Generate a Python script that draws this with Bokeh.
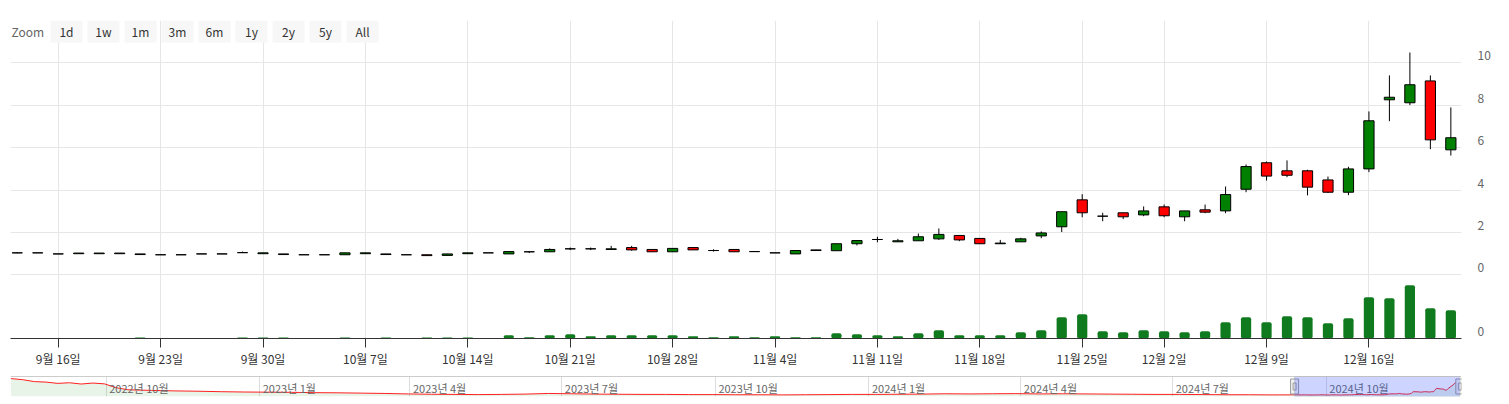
import pandas as pd
from bokeh.plotting import figure
from bokeh.models import (Range1d, LinearAxis, FixedTicker, Grid, ColumnDataSource,
                          BoxAnnotation, Label, Span)
from bokeh.layouts import column
from bokeh.embed import file_html
from bokeh.resources import INLINE

# ---------------- data ----------------
dates = pd.bdate_range("2024-09-12", "2024-12-20").drop(pd.Timestamp("2024-11-28"))

open_ = [1.04, 1.04, 0.99, 1.00, 1.00, 1.00, 0.99, 0.95, 0.95, 0.99,
         0.99, 1.05, 1.00, 0.99, 0.95, 0.95, 0.95, 1.00, 0.99, 0.95,
         0.95, 0.92, 1.00, 1.04, 0.99, 1.09, 1.09, 1.23, 1.23, 1.20,
         1.29, 1.20, 1.09, 1.29, 1.15, 1.20, 1.10, 1.04, 0.99, 1.15,
         1.14, 1.47, 1.67, 1.56, 1.61, 1.70, 1.86, 1.72, 1.47, 1.56,
         1.84, 2.27, 3.54, 2.77, 2.93, 2.83, 3.21, 2.74, 3.07, 3.02,
         4.04, 5.29, 4.91, 4.91, 4.48, 3.90, 5.00, 8.26, 8.12, 9.15,
         5.90]
high = [1.06, 1.04, 0.99, 1.03, 1.03, 1.03, 0.99, 0.95, 0.95, 0.99,
        0.99, 1.10, 1.04, 0.99, 0.95, 0.95, 1.04, 1.04, 0.99, 0.95,
        0.95, 0.99, 1.04, 1.04, 1.10, 1.09, 1.25, 1.29, 1.29, 1.37,
        1.37, 1.20, 1.25, 1.29, 1.21, 1.20, 1.10, 1.04, 1.15, 1.18,
        1.47, 1.62, 1.80, 1.70, 1.95, 2.19, 1.86, 1.72, 1.65, 1.75,
        2.05, 2.98, 3.81, 2.93, 2.93, 3.23, 3.32, 3.02, 3.32, 4.17,
        5.21, 5.35, 5.40, 4.96, 4.64, 5.10, 7.71, 9.41, 10.49, 9.41,
        7.90]
low = [1.02, 1.04, 0.99, 1.00, 1.00, 1.00, 0.96, 0.95, 0.95, 0.99,
       0.99, 1.05, 1.00, 0.96, 0.95, 0.95, 0.95, 1.00, 0.96, 0.95,
       0.91, 0.92, 1.00, 1.04, 0.99, 1.03, 1.09, 1.17, 1.17, 1.20,
       1.14, 1.09, 1.09, 1.18, 1.10, 1.09, 1.10, 1.04, 0.99, 1.15,
       1.14, 1.39, 1.54, 1.56, 1.61, 1.65, 1.59, 1.47, 1.47, 1.56,
       1.73, 2.02, 2.72, 2.53, 2.63, 2.77, 2.72, 2.53, 2.91, 2.91,
       3.90, 4.45, 4.61, 3.75, 3.86, 3.76, 4.85, 7.25, 8.01, 5.93,
       5.63]
close = [1.04, 1.04, 0.99, 1.03, 1.03, 1.03, 0.96, 0.95, 0.95, 0.99,
         0.99, 1.05, 1.04, 0.96, 0.95, 0.95, 1.04, 1.04, 0.96, 0.95,
         0.91, 0.99, 1.04, 1.04, 1.10, 1.09, 1.20, 1.23, 1.23, 1.23,
         1.18, 1.09, 1.25, 1.18, 1.15, 1.09, 1.10, 1.04, 1.15, 1.18,
         1.47, 1.62, 1.67, 1.61, 1.80, 1.91, 1.65, 1.47, 1.50, 1.70,
         1.98, 2.98, 2.93, 2.77, 2.74, 3.02, 2.79, 3.02, 2.96, 3.79,
         5.11, 4.66, 4.70, 4.14, 3.90, 5.00, 7.27, 8.38, 8.97, 6.37,
         6.47]
volume = [0.05, 0.05, 0.05, 0.05, 0.05, 0.05, 0.19, 0.05, 0.05, 0.05,
          0.05, 0.19, 0.19, 0.19, 0.05, 0.05, 0.19, 0.05, 0.19, 0.05,
          0.19, 0.19, 0.19, 0.05, 0.62, 0.25, 0.62, 0.81, 0.43, 0.62,
          0.62, 0.62, 0.62, 0.43, 0.25, 0.43, 0.25, 0.43, 0.25, 0.25,
          1.00, 0.81, 0.62, 0.43, 1.00, 1.57, 0.62, 0.62, 0.62, 1.19,
          1.57, 4.02, 4.58, 1.38, 1.19, 1.57, 1.38, 1.19, 1.38, 3.08,
          4.02, 3.08, 4.21, 4.02, 2.89, 3.83, 7.79, 7.60, 10.06, 5.72,
          5.34]

nav_hist_dates = ["2022-08-05", "2022-08-12", "2022-08-19", "2022-08-26", "2022-09-02",
                  "2022-09-09", "2022-09-16", "2022-09-23", "2022-09-30", "2022-10-07",
                  "2022-10-14", "2022-10-28", "2022-11-11", "2022-11-25", "2022-12-09",
                  "2022-12-23", "2023-01-06", "2023-01-20", "2023-02-03", "2023-02-17",
                  "2023-03-03", "2023-03-17", "2023-03-31", "2023-04-14", "2023-04-28",
                  "2023-05-12", "2023-05-26", "2023-06-09", "2023-06-23", "2023-07-07",
                  "2023-07-21", "2023-08-04", "2023-08-18", "2023-09-01", "2023-09-15",
                  "2023-09-29", "2023-10-13", "2023-10-27", "2023-11-10", "2023-11-24",
                  "2023-12-08", "2023-12-22", "2024-01-05", "2024-01-19", "2024-02-02",
                  "2024-02-16", "2024-03-01", "2024-03-15", "2024-03-29", "2024-04-12",
                  "2024-04-26", "2024-05-10", "2024-05-24", "2024-06-07", "2024-06-21",
                  "2024-07-05", "2024-07-19", "2024-08-02", "2024-08-16", "2024-08-30"]
nav_hist_close = [11.2, 10.5, 9.3, 9.0, 8.2, 8.6, 7.8, 8.4, 7.9, 5.5,
                  4.2, 3.8, 3.5, 3.3, 3.0, 2.8, 2.7, 2.6, 2.4, 2.3,
                  2.1, 1.9, 1.6, 1.4, 1.3, 1.2, 1.3, 1.5, 1.9, 1.7,
                  1.5, 1.4, 1.3, 1.3, 1.2, 1.2, 1.1, 1.1, 1.0, 1.1,
                  1.2, 1.3, 1.3, 1.4, 1.5, 1.7, 1.6, 1.7, 1.8, 1.6,
                  1.7, 1.6, 1.5, 1.4, 1.3, 1.3, 1.2, 1.1, 1.1, 1.0]

price_ticks = [0, 2, 4, 6, 8, 10]
zoom_buttons = ["1d", "1w", "1m", "3m", "6m", "1y", "2y", "5y", "All"]

# ---------------- derived ----------------
idx = list(range(len(dates)))
monday_idx = [i for i, d in enumerate(dates) if d.weekday() == 0]
x_labels = {i: f"{dates[i].month}월 {dates[i].day}일" for i in monday_idx}

src = ColumnDataSource(dict(
    x=idx, open=open_, high=high, low=low, close=close, volume=volume,
    top=[max(o, c) for o, c in zip(open_, close)],
    bottom=[min(o, c) for o, c in zip(open_, close)],
    color=["#008000" if c >= o else "#ff0000" for o, c in zip(open_, close)],
))

KR = "Noto Sans CJK KR"
PX_PER_UNIT = 318 / 15.0
label_shift = 7 / PX_PER_UNIT

p = figure(width=1501, height=369, output_backend="svg", toolbar_location=None,
           x_range=Range1d(-0.33, 70.52), y_range=Range1d(-3, 12),
           y_axis_location=None,
           min_border_left=10, min_border_right=40, min_border_top=20, min_border_bottom=31)
p.outline_line_color = None
p.background_fill_color = "white"
p.border_fill_color = "white"
p.ygrid.visible = False
p.xgrid.grid_line_color = "#e6e6e6"

p.extra_y_ranges = {
    "lbl": Range1d(-3 - label_shift, 12 - label_shift),
    "vol": Range1d(0, 60),
}

ygrid = Grid(dimension=1, ticker=FixedTicker(ticks=price_ticks + [12]), grid_line_color="#e6e6e6")
p.add_layout(ygrid, "center")

xax = p.xaxis[0]
xax.ticker = FixedTicker(ticks=monday_idx)
xax.major_label_overrides = x_labels
xax.axis_line_color = "#333333"
xax.major_tick_line_color = "#333333"
xax.major_tick_out = 9
xax.major_tick_in = 0
xax.minor_tick_line_color = None
xax.major_label_standoff = 2
xax.major_label_text_font = KR
xax.major_label_text_font_size = "12px"
xax.major_label_text_color = "#333333"

yax = LinearAxis(y_range_name="lbl",
                 ticker=FixedTicker(ticks=[-3] + price_ticks),
                 major_label_overrides={-3: "0"})
yax.axis_line_color = None
yax.major_tick_line_color = None
yax.minor_tick_line_color = None
yax.major_tick_out = 0
yax.major_tick_in = 0
yax.major_label_standoff = 16
yax.major_label_text_font = KR
yax.major_label_text_font_size = "12px"
yax.major_label_text_color = "#666666"
p.add_layout(yax, "right")

# volume
p.vbar(x="x", width=0.5, top="volume", bottom=0, source=src, y_range_name="vol",
       fill_color="#107a1f", line_color=None, border_radius=2)
# candles
p.segment(x0="x", y0="low", x1="x", y1="high", source=src, line_color="black", line_width=1)
p.vbar(x="x", width=0.5, top="top", bottom="bottom", source=src,
       fill_color="color", line_color="black", line_width=1)

# range selector buttons (screen units, relative to the frame)
p.add_layout(Label(x=1, y=307, x_units="screen", y_units="screen", text="Zoom",
                   text_font=KR, text_font_size="12px", text_color="#666666",
                   text_baseline="middle", text_align="left"))
for k, t in enumerate(zoom_buttons):
    left = 40 + 37 * k
    p.add_layout(BoxAnnotation(left=left, right=left + 32, bottom=296, top=318,
                               left_units="screen", right_units="screen",
                               bottom_units="screen", top_units="screen",
                               fill_color="#f7f7f7", fill_alpha=1.0, line_color=None,
                               level="annotation"))
    p.add_layout(Label(x=left + 16, y=307, x_units="screen", y_units="screen", text=t,
                       text_font=KR, text_font_size="12px", text_color="#333333",
                       text_baseline="middle", text_align="center"))

# ---------------- navigator ----------------
nav_x = list(pd.to_datetime(nav_hist_dates)) + list(dates)
nav_y = nav_hist_close + close
nav_lo, nav_hi = 0.0, 12.5

nav = figure(width=1501, height=28, output_backend="svg", toolbar_location=None,
             x_axis_type="datetime",
             x_range=Range1d(pd.Timestamp("2022-08-04 16:00"), pd.Timestamp("2024-12-21")),
             y_range=Range1d(nav_lo, nav_hi),
             x_axis_location=None, y_axis_location=None,
             min_border_left=10, min_border_right=40, min_border_top=7, min_border_bottom=1)
nav.outline_line_color = None
nav.xgrid.visible = False
nav.ygrid.visible = False

quarters = pd.date_range("2022-10-01", "2024-10-01", freq="QS")
q_ms = [q.value // 10**6 for q in quarters]
nav.add_layout(Grid(dimension=0, ticker=FixedTicker(ticks=q_ms), grid_line_color="#dddddd"), "center")

nav.varea(x=nav_x, y1=nav_lo, y2=nav_y, fill_color="#008000", fill_alpha=0.09)
nav.line(x=nav_x, y=nav_y, line_color="#ff2020", line_width=1)

q_labels = [f"{q.year}년 {q.month}월" for q in quarters]
nav.text(x=list(quarters), y=[nav_hi] * len(quarters), text=q_labels,
         x_offset=3, y_offset=11, text_baseline="middle", text_align="left",
         text_font={"value": KR}, text_font_size="11px", text_color="#666666")

nav.add_layout(BoxAnnotation(left=dates[0], right=dates[-1], fill_color="#3355ff",
                             fill_alpha=0.25, line_color="#999999", line_width=1))
nav.add_layout(Span(location=nav_hi, dimension="width", line_color="#999999", line_width=1))
nav.rect(x=[dates[0], dates[-1]], y=(nav_lo + nav_hi) / 2, width=8, height=15,
         width_units="screen", height_units="screen",
         fill_color="#f2f2f2", line_color="#999999")
nav.rect(x=[dates[0], dates[-1]], y=(nav_lo + nav_hi) / 2, width=3, height=7,
         width_units="screen", height_units="screen",
         fill_color=None, line_color="#999999")

layout = column(p, nav, spacing=0)
open("out.html", "w").write(file_html(layout, INLINE))
